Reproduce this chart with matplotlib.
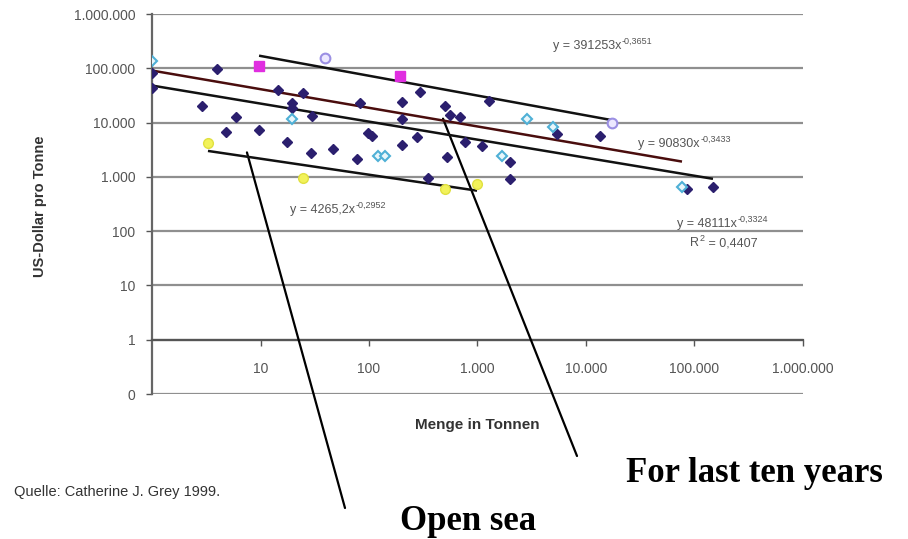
import numpy as np
import matplotlib
matplotlib.use("Agg")
import matplotlib.pyplot as plt
from matplotlib.ticker import FixedLocator, FuncFormatter, NullLocator

plt.rcParams["font.family"] = ["Liberation Sans", "DejaVu Sans"]

# Quantity (t) and price (US$ per t) of each sample group
navy_x = [1, 1, 3.97, 2.89, 5.94, 4.81, 9.7, 17.5, 14.5, 19.5, 19.5, 24.6,
          29.2, 29.8, 46.6, 77.5, 82.6, 97.9, 106.6, 201, 201, 201, 277, 295,
          350, 501, 523, 558, 690, 767, 1100, 1277, 1995, 1995, 5400, 13460,
          85300, 148000]
navy_y = [82000, 44000, 98000, 20500, 12900, 6840, 7440, 4300, 40300, 23300,
          18800, 35500, 2700, 13400, 3200, 2100, 23300, 6560, 5770, 24300,
          11800, 3790, 5310, 37000, 940, 20500, 2280, 14000, 12400, 4480, 3630,
          25300, 1850, 900, 6030, 5540, 590, 640]

cyan_x = [1, 19.5, 121, 140, 1680, 2860, 4960, 76700]
cyan_y = [137000, 11400, 2380, 2380, 2380, 11800, 8450, 640]

yellow_x = [3.28, 24.6, 501, 990]
yellow_y = [4120, 940, 590, 730]

magenta_x = [9.7, 193]
magenta_y = [111000, 72800]

lavender_x = [39.3, 17400]
lavender_y = [156000, 10000]

# Power-law trend lines y = a * x^b
trend_top = (391253, -0.3651)
trend_recent = (90830, -0.3433)
trend_all = (48111, -0.3324)
trend_open_sea = (4265.2, -0.2952)
r2_all = 0.4407

y_ticks = [0.1, 1, 10, 100, 1e3, 1e4, 1e5, 1e6]
x_ticks = [10, 100, 1e3, 1e4, 1e5, 1e6]


def de_thousands(v, pos=None):
    return f"{int(v):,}".replace(",", ".")


def de_num(v, nd):
    return f"{v:.{nd}f}".replace(".", ",")


def power_line(ax, coef, expo, xs, color):
    xx = np.logspace(np.log10(min(xs)), np.log10(max(xs)), 50)
    ax.plot(xx, coef * xx ** expo, color=color, lw=1.8, zorder=4,
            solid_capstyle="butt")


fig = plt.figure(figsize=(9.08, 5.39), dpi=100)
ax = fig.add_axes([152 / 908, 1 - 394 / 539, 651 / 908, 380 / 539])
ax.set_xscale("log")
ax.set_yscale("log")
ax.set_xlim(1, 1e6)
ax.set_ylim(0.1, 1e6)

ax.yaxis.set_major_locator(FixedLocator(y_ticks))
ax.yaxis.set_major_formatter(FuncFormatter(de_thousands))
ax.xaxis.set_major_locator(FixedLocator(x_ticks))
ax.xaxis.set_major_formatter(FuncFormatter(de_thousands))
ax.xaxis.set_minor_locator(NullLocator())
ax.yaxis.set_minor_locator(NullLocator())

for s in ("top", "right"):
    ax.spines[s].set_visible(False)
ax.spines["bottom"].set_position(("data", 1))
ax.spines["bottom"].set_color("#555555")
ax.spines["bottom"].set_linewidth(1.6)
ax.spines["left"].set_color("#666666")
ax.spines["left"].set_linewidth(1.6)

ax.yaxis.grid(True, color="#8f8f8f", lw=1.6)
ax.set_axisbelow(True)
ax.tick_params(axis="x", direction="out", length=4, width=1, color="#555555",
               labelsize=10, labelcolor="#555555", pad=12)
ax.tick_params(axis="y", direction="out", length=4, width=1, color="#555555",
               labelsize=10, labelcolor="#555555", pad=8)

# scatter groups
ax.plot(navy_x, navy_y, "D", ms=5.5, color="#2b1f6e", mec="#2b1f6e",
        zorder=5, ls="none")
ax.plot(cyan_x, cyan_y, "D", ms=5.5, mfc="#e8f6fb", mec="#4fb0d6", mew=1.5,
        zorder=5, ls="none")
ax.plot(yellow_x, yellow_y, "o", ms=7, mfc="#f2f25a", mec="#e0e040",
        zorder=5, ls="none")
ax.plot(magenta_x, magenta_y, "s", ms=7, color="#e02ee0", zorder=5, ls="none")
ax.plot(lavender_x, lavender_y, "o", ms=7, mfc="#ece8ff", mec="#9b8fe3",
        mew=1.5, zorder=5, ls="none")

# trend lines over each group's quantity range
power_line(ax, *trend_top, magenta_x + lavender_x, "#111111")
power_line(ax, *trend_recent, cyan_x, "#4a0d0d")
power_line(ax, *trend_all, navy_x + cyan_x + yellow_x + magenta_x + lavender_x,
           "#111111")
power_line(ax, *trend_open_sea, yellow_x, "#111111")

lab_kw = dict(color="#555555", zorder=6)


def sup_text(x, y, base, sup, tail=None):
    """Base text with a raised, smaller exponent and an optional tail."""
    t = ax.text(x, y, base, ha="left", va="center", fontsize=9, **lab_kw)
    s = ax.annotate(sup, xy=(1, 1), xycoords=t, xytext=(0.5, -4),
                    textcoords="offset points", ha="left", va="bottom",
                    fontsize=6.5, annotation_clip=False, **lab_kw)
    if tail:
        ax.annotate(tail, xy=(1, 0.5), xycoords=(s, t), ha="left",
                    va="center", fontsize=9, annotation_clip=False, **lab_kw)
    return t


def eq_parts(coef, expo, nd_coef):
    c = de_num(coef, nd_coef) if nd_coef else f"{int(coef)}"
    return f"y = {c}x", de_num(expo, 4)


sup_text(4960, 259000, *eq_parts(*trend_top, 0))
sup_text(30100, 3950, *eq_parts(*trend_recent, 0))
sup_text(18.7, 243, *eq_parts(*trend_open_sea, 1))
sup_text(69000, 134, *eq_parts(*trend_all, 0))
sup_text(90800, 60, "R", "2", " = " + de_num(r2_all, 4))

# axis titles and source
fig.text(40 / 908, 1 - 206 / 539, "US-Dollar pro Tonne", rotation=90,
         ha="center", va="center", fontsize=10.5, fontweight="bold",
         color="#333333")
fig.text(477 / 908, 1 - 425 / 539, "Menge in Tonnen", ha="center", va="center",
         fontsize=11, fontweight="bold", color="#333333")
fig.text(14 / 908, 1 - 492 / 539, "Quelle: Catherine J. Grey 1999.",
         ha="left", va="center", fontsize=10.5, color="#333333")

# callouts
big = dict(family=["Liberation Serif", "DejaVu Serif"], fontweight="bold",
           fontsize=25, color="black")
fig.text(754 / 908, 1 - 474 / 539, "For last ten years", ha="center",
         va="center", **big)
fig.text(468 / 908, 1 - 521 / 539, "Open sea", ha="center", va="center", **big)

pointer = dict(arrowstyle="-", color="black", lw=1.6, shrinkA=0, shrinkB=0)
ax.annotate("", xy=(7.5, 2820), xycoords="data",
            xytext=(345 / 908, 1 - 508 / 539), textcoords="figure fraction",
            arrowprops=pointer, annotation_clip=False)
ax.annotate("", xy=(481, 11800), xycoords="data",
            xytext=(577 / 908, 1 - 456 / 539), textcoords="figure fraction",
            arrowprops=pointer, annotation_clip=False)

fig.savefig("out.png", dpi=100)
